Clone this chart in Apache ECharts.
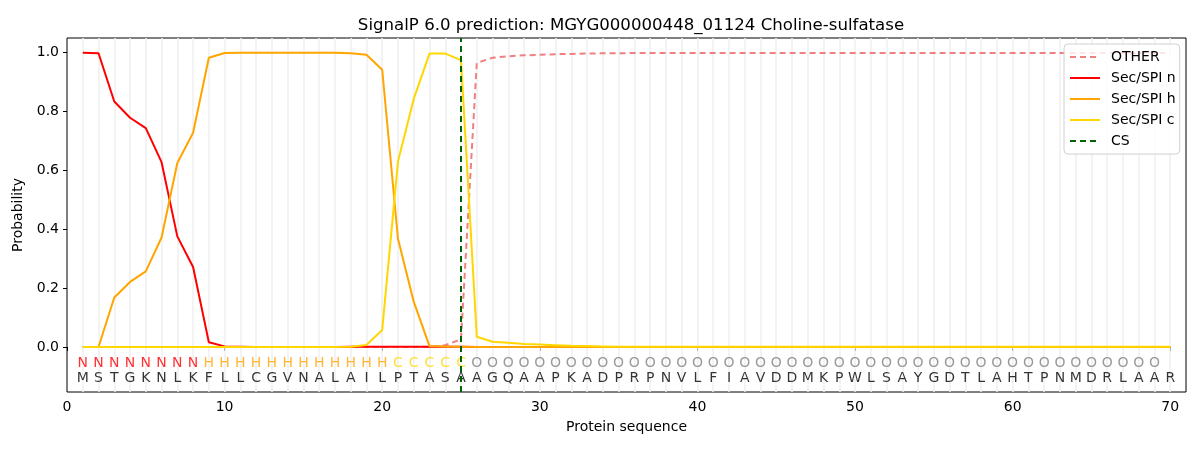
<!DOCTYPE html>
<html>
<head>
<meta charset="utf-8">
<script src="https://cdn.jsdelivr.net/npm/echarts@6/dist/echarts.min.js"></script>
<style>
  html, body { margin: 0; padding: 0; background: #fff; }
  #main { width: 1200px; height: 450px; }
</style>
</head>
<body>
<div id="main"></div>
<script>
// sequence and per-residue region labels
var seq = 'MSTGKNLKFLLCGVNALAILPTASAAGQAAPKADPRPNVLFIAVDDMKPWLSAYGDTLAHTPNMDRLAAR'.split('')
var regions = 'NNNNNNNNHHHHHHHHHHHHCCCCCOOOOOOOOOOOOOOOOOOOOOOOOOOOOOOOOOOOOOOOOOOOO'.split('')

// probabilities, residue 1..70
var other = [0, 0, 0, 0, 0, 0, 0, 0, 0, 0,
  0, 0, 0, 0, 0, 0, 0, 0, 0, 0,
  0, 0, 0, 0.006, 0.026, 0.965, 0.983, 0.988, 0.991, 0.993,
  0.995, 0.996, 0.997, 0.998, 0.998, 0.999, 0.999, 0.999, 0.999, 0.999,
  0.999, 0.999, 0.999, 0.999, 0.999, 0.999, 0.999, 0.999, 0.999, 0.999,
  0.999, 0.999, 0.999, 0.999, 0.999, 0.999, 0.999, 0.999, 0.999, 0.999,
  0.999, 0.999, 0.999, 0.999, 0.999, 0.999, 0.999, 0.999, 0.999, 0.999]
var secN = [1.0, 0.998, 0.834, 0.779, 0.744, 0.628, 0.376, 0.272, 0.016, 0.002,
  0.001, 0, 0, 0, 0, 0, 0, 0.001, 0.001, 0.001,
  0.001, 0.001, 0.001, 0.001, 0.001, 0, 0, 0, 0, 0,
  0, 0, 0, 0, 0, 0, 0, 0, 0, 0,
  0, 0, 0, 0, 0, 0, 0, 0, 0, 0,
  0, 0, 0, 0, 0, 0, 0, 0, 0, 0,
  0, 0, 0, 0, 0, 0, 0, 0, 0, 0]
var secH = [0, 0, 0.168, 0.221, 0.257, 0.372, 0.625, 0.728, 0.983, 0.999,
  1.0, 1.0, 1.0, 1.0, 1.0, 1.0, 1.0, 0.998, 0.993, 0.942,
  0.368, 0.154, 0.003, 0.002, 0.001, 0, 0, 0, 0, 0,
  0, 0, 0, 0, 0, 0, 0, 0, 0, 0,
  0, 0, 0, 0, 0, 0, 0, 0, 0, 0,
  0, 0, 0, 0, 0, 0, 0, 0, 0, 0,
  0, 0, 0, 0, 0, 0, 0, 0, 0, 0]
var secC = [0, 0, 0, 0, 0, 0, 0, 0, 0, 0,
  0, 0, 0, 0, 0, 0, 0, 0.001, 0.007, 0.058,
  0.63, 0.843, 0.997, 0.997, 0.975, 0.035, 0.018, 0.014, 0.010, 0.008,
  0.006, 0.004, 0.003, 0.002, 0.001, 0.001, 0.001, 0.001, 0.001, 0.001,
  0.001, 0.001, 0.001, 0.001, 0.001, 0.001, 0.001, 0.001, 0.001, 0.001,
  0.001, 0.001, 0.001, 0.001, 0.001, 0.001, 0.001, 0.001, 0.001, 0.001,
  0.001, 0.001, 0.001, 0.001, 0.001, 0.001, 0.001, 0.001, 0.001, 0.001]
var csPos = 25
var xTicks = [0, 10, 20, 30, 40, 50, 60, 70]
var yTicks = [0, 0.2, 0.4, 0.6, 0.8, 1.0]

var regionColor = { N: '#ff0000', H: '#ffa500', C: '#ffd700', O: '#808080' }
var font = 'DejaVu Sans'

function pairs(arr) {
  return arr.map(function (v, i) { return [i + 1, v] })
}

var regionLabels = regions.map(function (r, i) {
  return { value: [i + 1, -0.054, r], label: { color: regionColor[r] } }
})
var seqLabels = seq.map(function (s, i) {
  return { value: [i + 1, -0.107, s] }
})
// faint guide at every residue
var guides = seq.map(function (s, i) {
  return { xAxis: i + 1 }
})

var chart = echarts.init(document.getElementById('main'))

var option = {
  animation: false,
  textStyle: { fontFamily: font },
  title: {
    text: 'SignalP 6.0 prediction: MGYG000000448_01124 Choline-sulfatase',
    left: 626,
    textAlign: 'center',
    top: 12,
    textStyle: { fontFamily: font, fontSize: 16.6, fontWeight: 'normal', color: '#000' }
  },
  grid: {
    left: 67, right: 14, top: 38, bottom: 58,
    show: true, borderColor: '#000', borderWidth: 1, backgroundColor: 'transparent'
  },
  legend: {
    data: ['OTHER', 'Sec/SPI n', 'Sec/SPI h', 'Sec/SPI c', 'CS'],
    orient: 'vertical',
    left: 1064,
    top: 44,
    z: 6,
    itemWidth: 30,
    itemHeight: 14,
    itemGap: 7,
    padding: [6, 4, 6, 5],
    borderColor: '#d0d0d0',
    borderWidth: 1,
    borderRadius: 4,
    backgroundColor: 'rgba(255,255,255,0.8)',
    itemStyle: { opacity: 0 },
    textStyle: { fontFamily: font, fontSize: 14, color: '#000', padding: [0, 0, 0, 6] }
  },
  xAxis: {
    type: 'value', min: 0, max: 71,
    name: 'Protein sequence', nameLocation: 'middle', nameGap: 28,
    nameTextStyle: { fontFamily: font, fontSize: 14, color: '#000' },
    axisLine: { show: false },
    axisTick: { show: true, length: 4, customValues: xTicks, lineStyle: { color: '#000' } },
    axisLabel: { customValues: xTicks, fontFamily: font, fontSize: 14, color: '#000', margin: 8 },
    splitLine: { show: false }
  },
  yAxis: {
    type: 'value', min: -0.153, max: 1.05,
    name: 'Probability', nameLocation: 'middle', nameGap: 38,
    nameTextStyle: { fontFamily: font, fontSize: 14, color: '#000' },
    axisLine: { show: false },
    axisTick: { show: true, length: 4, customValues: yTicks, lineStyle: { color: '#000' } },
    axisLabel: {
      customValues: yTicks, fontFamily: font, fontSize: 14, color: '#000', margin: 8,
      formatter: function (v) { return v.toFixed(1) }
    },
    splitLine: { show: false }
  },
  series: [
    {
      type: 'line', data: [], z: 1, silent: true,
      markLine: {
        z: 1,
        silent: true, symbol: 'none', animation: false,
        label: { show: false },
        lineStyle: { color: '#efefef', width: 1.5, type: 'solid' },
        emphasis: { disabled: true },
        data: guides
      }
    },
    {
      name: 'OTHER', type: 'line', data: pairs(other), showSymbol: false, symbol: 'none',
      lineStyle: { color: '#f08080', width: 2, type: [6, 4] }, itemStyle: { color: '#f08080' }
    },
    {
      name: 'Sec/SPI n', type: 'line', data: pairs(secN), showSymbol: false, symbol: 'none',
      lineStyle: { color: '#ff0000', width: 2 }, itemStyle: { color: '#ff0000' }
    },
    {
      name: 'Sec/SPI h', type: 'line', data: pairs(secH), showSymbol: false, symbol: 'none',
      lineStyle: { color: '#ffa500', width: 2 }, itemStyle: { color: '#ffa500' }
    },
    {
      name: 'Sec/SPI c', type: 'line', data: pairs(secC), showSymbol: false, symbol: 'none',
      lineStyle: { color: '#ffd700', width: 2 }, itemStyle: { color: '#ffd700' }
    },
    {
      name: 'CS', type: 'line', data: [], symbol: 'none',
      lineStyle: { color: '#006400', width: 2, type: [6, 4] }, itemStyle: { color: '#006400' },
      markLine: {
        silent: true, symbol: 'none', animation: false,
        label: { show: false },
        lineStyle: { color: '#006400', width: 2, type: [6, 4] },
        data: [{ xAxis: csPos }]
      }
    },
    {
      type: 'scatter', data: regionLabels, symbolSize: 0, silent: true,
      label: {
        show: true, position: 'inside', fontFamily: font, fontSize: 14,
        formatter: function (p) { return p.value[2] }
      }
    },
    {
      type: 'scatter', data: seqLabels, symbolSize: 0, silent: true,
      label: {
        show: true, position: 'inside', fontFamily: font, fontSize: 14, color: '#000',
        formatter: function (p) { return p.value[2] }
      }
    }
  ]
}

chart.setOption(option)
</script>
</body>
</html>
